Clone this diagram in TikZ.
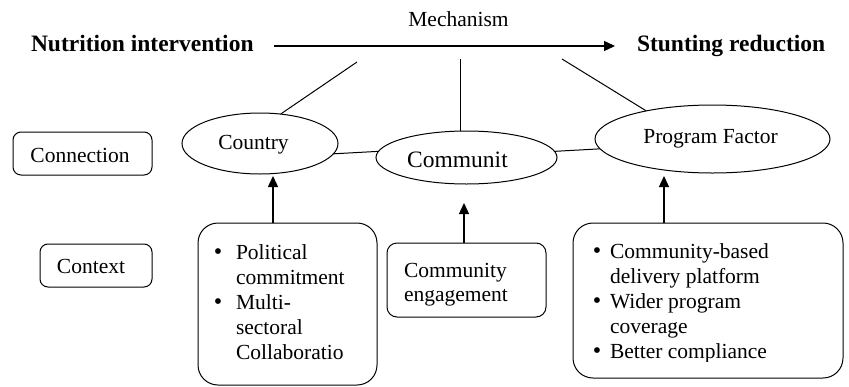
\documentclass[tikz,border=0pt]{standalone}
\usepackage{fontspec}
\setmainfont{Liberation Serif}
\usetikzlibrary{shapes.geometric,arrows.meta}
\newcommand{\mybul}{{\fontsize{24}{25}\selectfont•}}
\begin{document}
\begin{tikzpicture}[x=1pt,y=-1pt,
  every node/.style={inner sep=0pt,outer sep=0pt},
  txt/.style={font=\fontsize{21.5}{25}\selectfont},
  boldtxt/.style={font=\fontsize{23.5}{27}\selectfont\bfseries},
  oval/.style={draw,ellipse,line width=1pt},
  labelbox/.style={draw,rectangle,rounded corners=8pt,line width=1pt},
  bigbox/.style={draw,rectangle,rounded corners=20pt,line width=1pt},
  ln/.style={line width=1pt},
  arr/.style={line width=1.4pt,-{Triangle[width=10pt,length=11pt]}},
]
\path[use as bounding box] (0,0) rectangle (849,386);

% top row
\node[txt,anchor=base] (mech) at (458.5,26.5) {Mechanism};
\node[boldtxt,anchor=base west] (ni) at (31,51) {Nutrition intervention};
\node[boldtxt,anchor=base west] (sr) at (637,51) {Stunting reduction};
\draw[arr] ([xshift=20pt,yshift=5pt]ni.base east) -- ([xshift=-22pt,yshift=5pt]sr.base west);

% ellipses
\node[oval,minimum width=156pt,minimum height=61pt] (country) at (260,143.5) {};
\node[oval,minimum width=181pt,minimum height=53pt] (commun) at (466.5,157.5) {};
\node[oval,minimum width=235pt,minimum height=68pt] (pf) at (712.5,139) {};
\node[txt,anchor=base] (countrytxt) at (253.5,149) {Country};
\node[anchor=base,font=\fontsize{23.5}{25}\selectfont] (communtxt) at (457.5,167) {Communit};
\node[txt,anchor=base] (pftxt) at (710.5,143) {Program Factor};

% mechanism lines
\coordinate (m1) at (357,62);
\coordinate (m2) at (460,59);
\coordinate (m3) at (562,59);
\draw[ln] (m1) -- (country.55);
\draw[ln] (m2) -- (m2 |- commun.north);
\draw[ln] (m3) -- (pf.157);

% connections between ellipses
\draw[ln] (country.-8) -- (commun.176);
\draw[ln] (commun.4) -- (pf.185);

% side labels
\node[labelbox,minimum width=139pt,minimum height=43pt] (conn) at (82.5,153.5) {};
\node[labelbox,minimum width=112pt,minimum height=43pt] (ctx) at (96,265.5) {};
\node[txt,anchor=base] (conntxt) at (80,162) {Connection};
\node[txt,anchor=base] (ctxtxt) at (91,273) {Context};

% context boxes
\node[bigbox,minimum width=179pt,minimum height=162pt] (lb) at (287.5,304) {};
\node[draw,rectangle,rounded corners=10pt,line width=1pt,minimum width=159pt,minimum height=74pt] (mb) at (466.5,280) {};
\node[bigbox,minimum width=270pt,minimum height=155pt] (rb) at (708,300.5) {};

\node[txt,anchor=north west,align=left] (lt) at (209,242)
  {\rule{0pt}{17pt}\makebox[18pt][c]{\mybul}\hspace*{9pt}Political\\
   \hspace*{27pt}commitment\\
   \makebox[18pt][c]{\mybul}\hspace*{9pt}Multi-\\
   \hspace*{27pt}sectoral\\
   \hspace*{27pt}Collaboratio};

\node[anchor=north west,align=left,font=\fontsize{21.5}{24}\selectfont] (mt) at (404,260)
  {\rule{0pt}{17pt}Community\\engagement};

\begin{scope}
\clip (570,225) rectangle (846,361.5);
\node[txt,anchor=north west,align=left] (rt) at (591,241)
  {\rule{0pt}{17pt}\makebox[12pt][c]{\mybul}\hspace*{7pt}Community-based\\
   \hspace*{19pt}delivery platform\\
   \makebox[12pt][c]{\mybul}\hspace*{7pt}Wider program\\
   \hspace*{19pt}coverage\\
   \makebox[12pt][c]{\mybul}\hspace*{7pt}Better compliance};
\end{scope}

% arrows from context to connection
\coordinate (ca) at ([xshift=-14.5pt]lb.north);
\coordinate (cb) at ([xshift=-2.5pt]mb.north);
\coordinate (cc) at ([xshift=-44pt]rb.north);
\draw[arr,shorten >=2pt] (ca) -- (ca |- country.south);
\draw[arr,shorten >=19pt] (cb) -- (cb |- commun.south);
\draw[arr,shorten >=3pt] (cc) -- (cc |- pf.south);
\end{tikzpicture}
\end{document}
